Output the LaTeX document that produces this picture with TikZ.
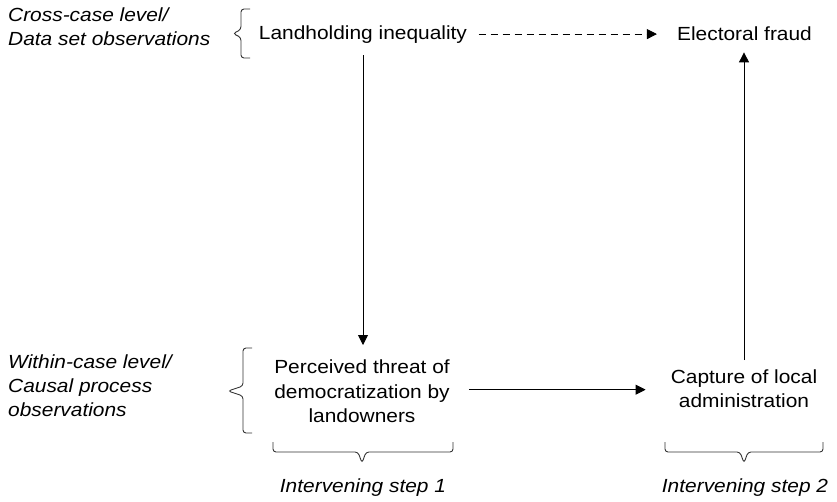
\documentclass[tikz,border=0pt]{standalone}
\usepackage{fontspec}
\setmainfont{Liberation Sans}[FakeStretch=1.1]
\usetikzlibrary{arrows.meta}
\begin{document}
\begin{tikzpicture}[x=1pt,y=1pt,
  txt/.style={inner sep=0pt, font=\fontsize{19}{24.5}\selectfont},
  itxt/.style={inner sep=0pt, font=\fontsize{19}{24}\selectfont\itshape},
  lvl/.style={itxt, align=left, anchor=north west},
  arr/.style={line width=0.9pt, -{Triangle[length=10pt,width=10pt]}},
  brk/.style={line width=0.9pt, black!80, rounded corners=3pt}]
\useasboundingbox (0,0) rectangle (837,-501);

% variables
\node[txt, anchor=base] (land) at (363,-39) {Landholding inequality};
\node[txt, anchor=base] (elec) at (744.5,-40) {Electoral fraud};
\node[txt, align=center, anchor=north] (perc) at (362,-360) {Perceived threat of\\democratization by\\landowners};
\node[txt, align=center, anchor=north] (capt) at (744,-369.5) {Capture of local\\administration};

% level labels
\node[lvl] (cross) at (8,-7.5) {Cross-case level/\\Data set observations};
\node[lvl] (within) at (8,-355) {Within-case level/\\Causal process\\observations};

% step labels
\node[itxt, anchor=base] (step1) at (363,-492) {Intervening step 1};
\node[itxt, anchor=base] (step2) at (745,-492) {Intervening step 2};

% causal links
\draw[arr, dash pattern=on 7pt off 5pt, shorten <=11.5pt, shorten >=20pt]
  (land.east) -- (land.east -| elec.west);
\draw[arr, shorten <=12pt, shorten >=15pt] (land.south) -- (land.south |- perc.north);
\draw[arr, shorten <=19pt, shorten >=25pt] ([yshift=2pt]perc.east) -- ([yshift=2pt]perc.east -| capt.west);
\draw[arr, shorten <=9.5pt, shorten >=12pt] (capt.north) -- (capt.north |- elec.south);

% brackets grouping levels and steps
\coordinate (bb) at (250,-9);
\coordinate (bd) at (252,-348);
\coordinate (bf) at (273,-442);
\coordinate (bh) at (665,-442);
\draw[brk] (bb) -- ++(-9,0) -- ++(0,-20.5) -- ++(-8,-4) -- ++(8,-4) -- ++(0,-20.5) -- ++(9,0);
\draw[brk] (bd) -- ++(-9,0) -- ++(0,-38) -- ++(-15,-5) -- ++(15,-5) -- ++(0,-37) -- ++(9,0);
\draw[brk] (bf) -- ++(0,-10) -- ++(85,0) -- ++(4,-11) -- ++(4,11) -- ++(87,0) -- ++(0,10);
\draw[brk] (bh) -- ++(0,-10) -- ++(75,0) -- ++(4,-11) -- ++(4,11) -- ++(75,0) -- ++(0,10);
\end{tikzpicture}
\end{document}
